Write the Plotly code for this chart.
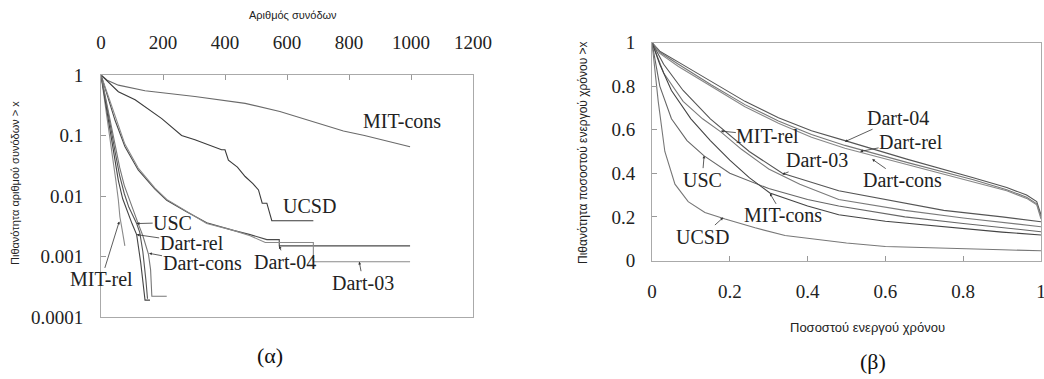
import plotly.graph_objects as go
import math

# ---------------- (α) data: CCDF of number of sessions (log y) ----------------
mitcons_a_x = [0, 20, 56, 142, 303, 465, 577, 700, 782, 850, 921, 997]
mitcons_a_y = [1, 0.82, 0.68, 0.55, 0.44, 0.34, 0.25, 0.16, 0.119, 0.10, 0.081, 0.065]

ucsd_a_x = [0, 56, 110, 196, 260, 303, 389, 400, 411, 440, 465, 490, 508, 520, 535, 551, 685]
ucsd_a_y = [1, 0.53, 0.39, 0.19, 0.10, 0.085, 0.058, 0.058, 0.039, 0.030, 0.021, 0.016, 0.0126, 0.0076, 0.0076, 0.0039, 0.0039]

dart04_a_x = [0, 20, 45, 77, 120, 174, 212, 276, 341, 427, 481, 535, 575, 575, 997]
dart04_a_y = [1, 0.45, 0.18, 0.066, 0.027, 0.013, 0.0085, 0.0055, 0.0036, 0.0027, 0.0023, 0.0019, 0.0019, 0.0015, 0.0015]

dart03_a_x = [0, 20, 45, 77, 120, 174, 212, 276, 341, 427, 481, 530, 685, 685, 997]
dart03_a_y = [1, 0.5, 0.2, 0.072, 0.029, 0.0135, 0.0088, 0.0056, 0.0035, 0.0027, 0.0022, 0.0017, 0.0017, 0.00082, 0.00082]

mitrel_a_x = [0, 10, 20, 30, 40, 48, 56, 61, 68, 77]
mitrel_a_y = [1, 0.45, 0.2, 0.09, 0.04, 0.018, 0.0086, 0.0045, 0.0028, 0.0015]

usc_a_x = [0, 15, 30, 45, 60, 75, 90, 105, 115, 125, 135, 145, 150]
usc_a_y = [1, 0.4, 0.15, 0.055, 0.022, 0.011, 0.0065, 0.0045, 0.0035, 0.0025, 0.0012, 0.0004, 0.0002]

dartrel_a_x = [0, 15, 30, 45, 56, 70, 85, 100, 115, 128, 142, 158]
dartrel_a_y = [1, 0.35, 0.12, 0.045, 0.018, 0.009, 0.0055, 0.0035, 0.0023, 0.0008, 0.00019, 0.00019]

dartcons_a_x = [0, 15, 30, 45, 60, 75, 90, 105, 120, 135, 153, 160, 164, 212]
dartcons_a_y = [1, 0.42, 0.17, 0.07, 0.03, 0.015, 0.009, 0.0055, 0.0035, 0.0022, 0.0011, 0.0006, 0.00022, 0.00022]

# ---------------- (β) data: CCDF of active-time fraction ----------------
dart04_b_x = [0, 0.02, 0.068, 0.153, 0.239, 0.325, 0.41, 0.496, 0.655, 0.826, 0.912, 0.963, 0.989, 1.0]
dart04_b_y = [1, 0.96, 0.91, 0.82, 0.73, 0.655, 0.595, 0.55, 0.465, 0.38, 0.335, 0.30, 0.27, 0.21]

dartrel_b_x = [0, 0.02, 0.068, 0.153, 0.239, 0.325, 0.41, 0.496, 0.655, 0.826, 0.912, 0.963, 0.989, 1.0]
dartrel_b_y = [1, 0.955, 0.90, 0.805, 0.715, 0.64, 0.578, 0.528, 0.45, 0.37, 0.325, 0.29, 0.26, 0.2]

dartcons_b_x = [0, 0.02, 0.068, 0.153, 0.239, 0.325, 0.41, 0.496, 0.655, 0.826, 0.912, 0.963, 0.989, 1.0]
dartcons_b_y = [1, 0.95, 0.89, 0.80, 0.705, 0.63, 0.565, 0.515, 0.44, 0.36, 0.32, 0.285, 0.255, 0.19]

dart03_b_x = [0, 0.03, 0.08, 0.15, 0.25, 0.335, 0.48, 0.6, 0.75, 0.9, 1.0]
dart03_b_y = [1, 0.9, 0.78, 0.65, 0.50, 0.40, 0.32, 0.28, 0.23, 0.2, 0.178]

mitrel_b_x = [0, 0.03, 0.08, 0.13, 0.177, 0.23, 0.3, 0.38, 0.48, 0.65, 0.8, 0.9, 1.0]
mitrel_b_y = [1, 0.86, 0.73, 0.65, 0.59, 0.51, 0.42, 0.35, 0.28, 0.23, 0.195, 0.175, 0.155]

usc_b_x = [0, 0.02, 0.05, 0.09, 0.134, 0.2, 0.3, 0.4, 0.48, 0.65, 0.8, 0.9, 1.0]
usc_b_y = [1, 0.80, 0.65, 0.55, 0.48, 0.40, 0.33, 0.28, 0.25, 0.2, 0.17, 0.15, 0.132]

mitcons_b_x = [0, 0.02, 0.05, 0.1, 0.15, 0.2, 0.25, 0.303, 0.4, 0.48, 0.6, 0.75, 0.9, 1.0]
mitcons_b_y = [1, 0.9, 0.78, 0.65, 0.55, 0.46, 0.38, 0.31, 0.25, 0.21, 0.18, 0.155, 0.13, 0.117]

ucsd_b_x = [0, 0.016, 0.033, 0.059, 0.093, 0.136, 0.188, 0.265, 0.342, 0.43, 0.5, 0.6, 0.7, 0.8, 0.9, 1.0]
ucsd_b_y = [1, 0.73, 0.50, 0.35, 0.27, 0.22, 0.19, 0.15, 0.115, 0.095, 0.08, 0.064, 0.058, 0.052, 0.049, 0.045]

x_ticks_a = [0, 200, 400, 600, 800, 1000, 1200]
y_ticks_a = [1, 0.1, 0.01, 0.001, 0.0001]
y_ticktext_a = ["1", "0.1", "0.01", "0.001", "0.0001"]
ticks_b = [0, 0.2, 0.4, 0.6, 0.8, 1.0]
ticktext_b = ["0", "0.2", "0.4", "0.6", "0.8", "1"]

SERIF = "Liberation Serif, Tinos, Times New Roman, DejaVu Serif, serif"
SANS = "Liberation Sans, Arimo, Arial, DejaVu Sans, sans-serif"

fig = go.Figure()

def add(x, y, xa, ya, color):
    fig.add_trace(go.Scatter(x=x, y=y, mode="lines", xaxis=xa, yaxis=ya,
                             line=dict(color=color, width=1.1),
                             showlegend=False, hoverinfo="skip"))

add(mitcons_a_x, mitcons_a_y, "x", "y", "#6a6a6a")
add(ucsd_a_x, ucsd_a_y, "x", "y", "#3a3a3a")
add(dart04_a_x, dart04_a_y, "x", "y", "#4a4a4a")
add(dart03_a_x, dart03_a_y, "x", "y", "#8a8a8a")
add(mitrel_a_x, mitrel_a_y, "x", "y", "#8a8a8a")
add(usc_a_x, usc_a_y, "x", "y", "#555555")
add(dartrel_a_x, dartrel_a_y, "x", "y", "#444444")
add(dartcons_a_x, dartcons_a_y, "x", "y", "#777777")

add(dart04_b_x, dart04_b_y, "x2", "y2", "#555555")
add(dartrel_b_x, dartrel_b_y, "x2", "y2", "#777777")
add(dartcons_b_x, dartcons_b_y, "x2", "y2", "#888888")
add(dart03_b_x, dart03_b_y, "x2", "y2", "#555555")
add(mitrel_b_x, mitrel_b_y, "x2", "y2", "#7a7a7a")
add(usc_b_x, usc_b_y, "x2", "y2", "#666666")
add(mitcons_b_x, mitcons_b_y, "x2", "y2", "#444444")
add(ucsd_b_x, ucsd_b_y, "x2", "y2", "#777777")

W, H = 1044, 379
axis_common = dict(showgrid=False, zeroline=False, showline=True, linecolor="#aaaaaa",
                   linewidth=1, mirror=True, ticks="inside", ticklen=5, tickcolor="#999999",
                   automargin=False, ticklabeloverflow="allow",
                   tickfont=dict(family=SERIF, size=19, color="#222222"))

fig.update_layout(
    width=W, height=H, autosize=False,
    margin=dict(l=0, r=0, t=0, b=0, pad=0),
    paper_bgcolor="white", plot_bgcolor="white",
    xaxis=dict(domain=[101 / W, 473 / W], anchor="y", side="top", range=[0, 1200],
               tickvals=x_ticks_a, ticklabelstandoff=17, **axis_common),
    yaxis=dict(domain=[1 - 317 / H, 1 - 75 / H], anchor="x", type="log", range=[-4, 0],
               tickvals=y_ticks_a, ticktext=y_ticktext_a, ticklabelstandoff=13, **axis_common),
    xaxis2=dict(domain=[652 / W, 1041 / W], anchor="y2", range=[0, 1],
                tickvals=ticks_b, ticktext=ticktext_b, ticklabelstandoff=14, **axis_common),
    yaxis2=dict(domain=[1 - 260.5 / H, 1 - 42.5 / H], anchor="x2", range=[0, 1],
                tickvals=ticks_b, ticktext=ticktext_b, ticklabelstandoff=12, **axis_common),
)

lab_font = dict(family=SERIF, size=20, color="#222222")
ann = []

def arrow(text, x, y, ax, ay, xr, yr):
    ann.append(dict(text=text, x=x, y=y, ax=ax, ay=ay, xref=xr, yref=yr,
                    showarrow=True, arrowhead=2, arrowsize=0.7, arrowwidth=0.8,
                    arrowcolor="#333333", standoff=0, startstandoff=0,
                    font=lab_font, borderpad=0))

def plain(text, x, y, xr, yr):
    ann.append(dict(text=text, x=x, y=y, xref=xr, yref=yr, showarrow=False,
                    xanchor="center", yanchor="middle", font=lab_font))

L = math.log10
# (α) labels
plain("MIT-cons", 972, -0.765, "x", "y")
plain("UCSD", 674, -2.16, "x", "y")
arrow("USC", 115, L(0.0035), 36, -1, "x", "y")
arrow("Dart-rel", 115, L(0.0023), 55, 8, "x", "y")
arrow("Dart-cons", 155, L(0.00113), 53, 10, "x", "y")
arrow("MIT-rel", 59, L(0.0038), -18, 58, "x", "y")
arrow("Dart-04", 575, L(0.0015), 6, 16, "x", "y")
arrow("Dart-03", 833, L(0.00082), 4, 21, "x", "y")

# (β) labels
arrow("Dart-04", 0.496, 0.545, 53, -24, "x2", "y2")
arrow("Dart-rel", 0.535, 0.50, 51, -10, "x2", "y2")
arrow("Dart-cons", 0.566, 0.465, 30, 21, "x2", "y2")
arrow("Dart-03", 0.335, 0.395, 35, -14, "x2", "y2")
arrow("MIT-rel", 0.177, 0.594, 47, 5, "x2", "y2")
arrow("USC", 0.134, 0.481, -2, 24, "x2", "y2")
arrow("MIT-cons", 0.303, 0.308, 13, 22, "x2", "y2")
arrow("UCSD", 0.183, 0.197, -21, 19, "x2", "y2")

def ptext(text, px, py, size, family=SANS, angle=0, color="#222222"):
    ann.append(dict(text=text, x=px / W, y=1 - py / H, xref="paper", yref="paper",
                    xanchor="center", yanchor="middle", showarrow=False, textangle=angle,
                    font=dict(family=family, size=size, color=color)))

ptext("Αριθμός συνόδων", 293, 15, 11)
ptext("Πιθανότητα αριθμού συνόδων > x", 15, 183, 11, angle=-90)
ptext("Ποσοστού ενεργού χρόνου", 867, 327, 13)
ptext("Πιθανότητα ποσοστού ενεργού χρόνου >x", 583, 153, 12, angle=-90)
ptext("(α)", 270, 355, 22, family=SERIF, color="#111111")
ptext("(β)", 873, 361, 22, family=SERIF, color="#111111")

fig.update_layout(annotations=ann)
fig.write_html("out.html")
